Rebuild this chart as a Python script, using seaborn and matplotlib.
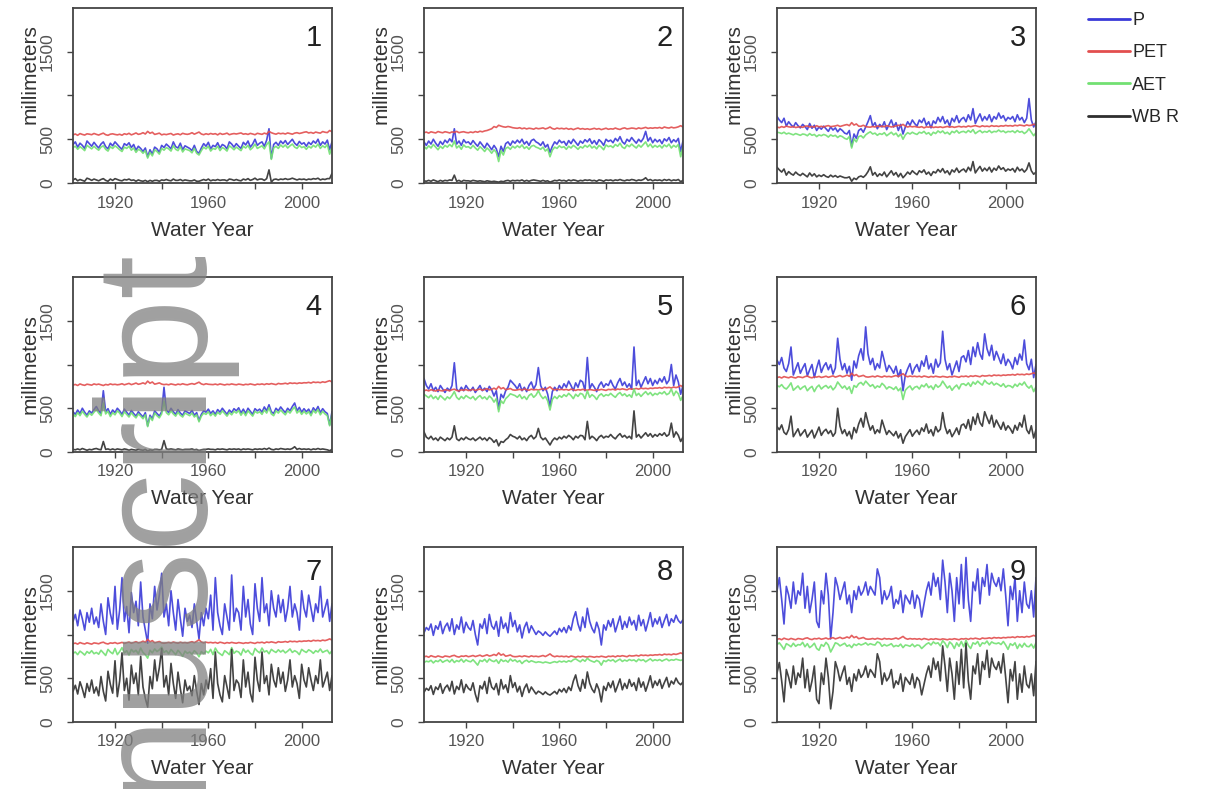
import numpy as np
import pandas as pd
import matplotlib
matplotlib.use("Agg")
import matplotlib.pyplot as plt
from matplotlib.lines import Line2D
import seaborn as sns

# ---------------- data (mm per water year, 1902-2013) ----------------
years = list(range(1902, 2014))
series_names = ["P", "PET", "AET", "WBR"]
legend_labels = ["P", "PET", "AET", "WB R"]
panel_labels = ["1", "2", "3", "4", "5", "6", "7", "8", "9"]
year_ticks = [1920, 1940, 1960, 1980, 2000]
year_ticklabels = ["1920", "", "1960", "", "2000"]
mm_ticks = [0, 500, 1000, 1500]
mm_ticklabels = ["0", "500", "", "1500"]

P1 = [440,470,410,455,430,395,480,450,420,465, 430,400,445,470,415,390,455,425,470,440,
      410,385,450,430,460,405,440,375,420,395, 360,400,300,380,330,410,390,350,430,405,
      445,420,390,470,415,400,455,380,425,410, 395,370,430,360,340,400,450,420,465,390,
      430,415,460,400,440,425,390,470,445,410, 450,420,395,465,435,480,410,445,500,430,
      455,470,420,490,620,280,440,465,430,480, 450,485,440,470,500,455,430,475,445,460,
      420,465,440,480,455,500,430,470,445,490, 380,470]
AET1 = [405,420,385,415,395,370,430,410,390,420, 395,375,410,425,385,365,415,395,425,405,
        380,360,410,395,420,375,400,350,385,370, 340,370,285,350,310,380,360,330,395,375,
        405,390,365,425,385,370,415,355,390,380, 370,345,395,340,320,370,410,390,420,365,
        395,385,420,370,405,390,365,425,405,380, 410,390,370,420,400,430,380,405,445,395,
        410,425,390,440,470,270,400,420,395,435, 410,435,400,425,445,410,395,430,405,415,
        385,420,400,430,410,445,395,425,405,440, 330,410]
PET1 = [550,560,545,565,555,548,562,558,552,566, 556,548,560,570,552,545,558,562,555,550,
        557,546,563,555,568,550,560,572,556,562, 575,560,590,568,580,555,562,570,550,558,
        553,560,566,548,557,562,551,568,560,556, 562,575,558,570,582,560,552,563,555,566,
        558,564,550,568,556,561,570,552,560,565, 560,566,572,558,563,555,567,560,552,568,
        562,556,570,560,590,575,565,558,570,563, 568,560,572,565,558,570,575,566,572,580,
        585,572,578,568,582,575,570,588,580,576, 600,585]
WBR1 = [35,50,25,40,30,20,55,45,30,45, 35,25,40,50,30,20,45,30,50,40,
        30,25,40,35,45,30,35,20,35,25, 20,30,15,30,20,30,30,20,35,30,
        40,30,25,45,30,30,40,25,35,30, 25,25,35,20,20,30,40,30,45,25,
        35,30,40,30,35,35,25,45,40,30, 40,30,25,45,35,50,30,40,55,35,
        45,45,30,50,150,10,40,45,35,45, 40,50,40,45,55,45,35,45,40,45,
        35,45,40,50,45,55,35,45,40,50, 50,110]

P2 = [470,430,480,445,500,455,420,475,440,490, 460,505,470,620,445,480,430,495,460,470,
      440,485,450,420,470,435,400,455,420,380, 430,390,300,420,360,450,470,430,480,455,
      490,460,500,445,475,430,485,500,470,455, 430,470,410,440,350,420,470,445,490,460,
      475,430,485,450,500,465,430,480,455,495, 470,505,450,485,440,495,470,430,500,475,
      490,460,510,480,530,470,445,500,475,520, 485,455,500,470,510,590,480,520,460,500,
      470,495,450,505,480,520,460,495,470,510, 360,480]
AET2 = [420,390,425,400,440,410,380,420,395,430, 410,440,415,480,400,425,385,435,410,415,
        395,430,400,375,415,390,360,400,375,340, 380,350,245,370,320,395,410,385,420,400,
        425,405,435,395,415,385,420,430,410,400, 385,410,365,390,300,375,410,395,425,405,
        415,385,420,400,430,410,385,415,400,430, 410,435,400,420,390,430,410,380,435,415,
        425,405,440,420,455,410,395,435,415,445, 420,400,435,410,440,470,415,445,405,430,
        410,430,400,435,415,445,400,430,410,440, 300,420]
PET2 = [575,582,570,585,578,572,588,580,574,586, 580,572,584,578,590,575,582,586,578,574,
        583,576,588,580,592,585,595,600,610,620, 645,635,660,650,642,638,646,640,632,628,
        625,632,620,628,618,626,622,615,628,620, 624,630,618,626,640,622,615,628,620,625,
        618,626,614,622,610,620,628,616,622,614, 620,612,618,625,615,622,610,618,626,614,
        620,616,628,618,612,624,630,618,622,628, 625,618,630,622,628,636,624,630,626,632,
        628,635,624,640,632,628,638,630,634,642, 655,640]
WBR2 = [25,20,30,20,35,25,15,30,20,30, 25,35,30,90,20,30,15,30,25,25,
        20,30,25,20,25,20,15,25,20,15, 20,15,10,20,15,25,30,20,30,25,
        30,25,35,20,30,20,30,35,30,25, 20,30,20,25,10,20,30,25,35,25,
        30,20,35,25,35,30,20,30,25,35, 30,35,25,30,20,35,30,20,35,30,
        35,25,35,30,40,30,25,35,30,40, 35,25,35,30,40,60,30,40,25,35,
        30,35,25,40,30,40,25,35,30,40, 15,30]

P3 = [760,720,690,740,650,700,665,640,690,655, 630,670,645,610,680,625,660,600,640,615,
      650,620,590,640,605,630,585,620,600,570, 560,600,420,560,510,600,620,580,640,700,
      770,650,690,620,670,640,700,610,665,720, 640,690,600,670,560,640,700,660,720,680,
      650,720,690,740,660,700,630,710,680,750, 700,760,680,720,650,740,700,770,690,730,
      750,700,780,720,850,680,740,790,710,760, 720,780,700,760,730,800,740,770,710,750,
      730,760,700,780,720,750,690,740,965,720, 640,700]
AET3 = [580,575,565,580,560,570,560,550,565,555, 545,560,555,540,565,545,555,530,550,540,
        555,545,525,550,535,545,520,540,530,510, 500,530,400,505,470,530,540,515,550,570,
        585,560,570,545,565,555,575,540,560,580, 550,570,530,560,500,550,575,560,580,565,
        555,580,570,590,560,575,545,580,565,595, 575,595,565,580,555,590,575,600,570,585,
        590,575,600,580,610,565,585,600,575,590, 580,600,575,590,585,605,585,595,575,590,
        585,595,575,600,580,590,565,585,620,580, 540,575]
PET3 = [640,632,645,636,650,642,638,646,634,640, 644,636,648,652,640,646,638,655,642,648,
        640,650,656,644,648,652,660,646,654,662, 668,655,690,662,675,650,648,660,645,640,
        638,646,640,652,644,650,642,656,648,640, 646,652,660,655,670,650,640,648,642,646,
        640,636,644,630,642,638,646,634,640,636, 642,634,640,646,638,644,636,642,648,640,
        646,640,652,644,650,656,648,642,654,646, 650,644,656,648,652,646,654,650,658,652,
        656,650,660,654,662,658,652,664,656,660, 672,662]
WBR3 = [180,150,125,160,90,130,105,90,125,100, 85,110,90,70,115,80,105,70,90,75,
        95,75,65,90,70,85,65,80,70,60, 60,70,20,55,40,70,80,65,90,130,
        185,90,120,75,105,85,125,70,105,140, 90,120,70,110,60,90,125,100,140,115,
        95,140,120,150,100,125,85,130,115,155, 125,165,115,140,95,150,125,170,120,145,
        160,125,180,140,245,115,155,190,135,170, 140,180,125,170,145,195,155,175,135,160,
        145,165,125,180,140,160,125,155,230,140, 100,125]

P4 = [460,430,480,440,500,455,420,470,445,485, 520,470,440,700,460,495,430,480,450,500,
      470,430,490,455,420,475,440,410,460,430, 400,450,300,420,380,470,440,410,460,740,
      480,450,500,460,430,485,445,420,470,455, 440,475,420,450,360,430,470,455,490,440,
      470,430,485,455,500,465,430,480,450,495, 470,505,445,490,440,500,465,430,495,470,
      490,455,515,470,540,460,440,500,470,515, 480,450,500,470,520,560,470,510,455,495,
      460,490,440,505,470,520,450,495,460,440, 310,460]
AET4 = [435,405,450,415,465,430,400,445,420,455, 485,445,415,560,435,465,405,450,425,470,
        445,405,460,430,400,450,415,390,435,410, 380,425,290,400,360,445,415,390,435,580,
        450,425,470,435,410,455,420,400,445,430, 415,445,400,425,345,410,445,430,460,415,
        445,410,455,430,470,440,410,450,425,465, 445,475,420,460,415,470,440,410,465,445,
        460,430,480,445,505,435,415,470,445,480, 450,425,470,445,485,515,445,475,430,465,
        435,460,415,475,445,485,425,465,435,415, 300,435]
PET4 = [765,772,760,778,768,762,775,770,764,778, 770,776,768,760,772,766,778,770,774,768,
        772,780,768,776,784,770,778,788,774,780, 790,778,810,786,800,775,782,790,776,770,
        774,768,778,772,766,776,770,780,772,768, 776,782,774,786,798,778,770,780,774,772,
        770,776,768,778,772,766,774,770,778,772, 768,776,772,766,774,770,778,772,766,776,
        772,778,770,780,774,782,776,770,784,778, 780,786,778,790,784,788,782,790,786,792,
        790,796,788,800,794,798,792,802,796,806, 815,800]
WBR4 = [30,25,35,25,40,30,20,30,25,35, 40,30,25,120,30,35,25,35,25,35,
        30,25,35,30,20,30,25,20,30,25, 20,30,10,25,20,30,30,25,30,130,
        35,30,35,30,25,35,30,25,30,30, 30,35,25,30,15,25,30,30,35,30,
        30,25,35,30,35,30,25,35,30,35, 30,35,25,35,30,35,30,25,35,30,
        35,30,40,30,45,30,25,35,30,40, 35,30,35,30,40,60,30,40,30,35,
        30,35,25,35,30,40,30,35,30,25, 15,30]

P5 = [840,760,720,780,700,740,690,760,720,680, 730,700,760,1020,720,690,740,700,760,720,
      700,740,680,720,760,700,730,690,750,710, 640,700,490,660,620,700,740,820,790,760,
      720,780,700,740,690,760,800,720,770,965, 760,700,740,660,520,690,740,700,760,720,
      780,740,810,760,700,790,740,820,800,700, 1080,720,780,740,690,760,800,740,780,760,
      820,760,720,790,840,760,800,740,780,720, 1200,760,820,740,800,860,780,840,760,820,
      780,840,800,860,780,820,1000,760,880,800, 660,760]
AET5 = [660,640,620,650,610,635,600,645,620,595, 630,610,645,690,625,600,635,610,645,625,
        610,635,595,625,645,610,630,600,640,615, 570,610,460,585,555,610,635,665,655,645,
        625,655,610,635,600,645,665,625,650,700, 645,610,635,585,480,600,635,610,645,625,
        655,635,670,645,610,660,635,670,660,610, 700,625,655,635,600,645,665,635,655,645,
        670,645,625,660,680,645,665,635,655,625, 720,645,670,635,665,690,655,680,645,670,
        655,680,665,690,655,670,720,645,695,665, 590,645]
PET5 = [700,708,698,712,704,696,710,702,698,712, 706,700,712,718,704,698,710,706,714,702,
        708,716,704,712,720,706,714,724,710,716, 730,715,750,722,735,712,718,726,710,706,
        710,716,708,720,712,706,718,710,714,708, 716,724,712,728,745,720,710,718,712,716,
        710,716,706,718,712,704,714,708,716,710, 706,714,710,704,712,708,716,710,704,716,
        712,718,708,720,714,722,716,710,724,718, 720,726,718,730,724,728,722,730,726,732,
        730,736,728,740,734,738,732,742,736,744, 760,742]
WBR5 = [230,170,150,180,140,160,130,170,150,130, 160,140,170,300,150,130,160,140,170,150,
        140,160,130,150,170,140,160,130,165,145, 110,140,70,120,110,140,160,200,180,170,
        150,180,140,160,130,170,190,150,175,270, 170,140,160,120,80,130,160,140,170,150,
        180,160,190,170,140,180,160,190,185,140, 350,150,180,160,130,170,190,160,180,170,
        200,170,150,185,210,170,190,160,180,150, 470,170,200,160,190,220,180,210,170,200,
        180,210,190,220,180,200,330,170,230,190, 120,170]

P6 = [1050,1000,1080,960,920,1010,1200,880,950,1020, 900,960,1010,870,940,1000,850,960,1050,910,
      980,1020,940,1000,890,960,1300,1060,940,1010, 900,980,820,1040,960,1100,1180,1050,1430,1120,
      1000,1070,940,1010,960,1150,1040,920,990,950, 900,980,860,940,700,880,950,1010,890,960,
      1000,920,1040,980,1100,950,1010,900,1060,970, 1020,1380,1060,940,1010,880,960,1040,920,1080,
      1100,1030,1160,1000,1200,1090,1250,1120,1060,1350, 1180,1100,1220,1050,1150,1080,1010,1120,990,1060,
      1020,950,1080,1000,1120,1050,1280,1010,940,1060, 850,1000]
AET6 = [760,745,770,735,720,750,790,705,730,755, 715,740,755,700,730,750,690,740,765,720,
        745,760,730,755,710,740,800,765,730,755, 715,745,670,760,740,780,795,765,810,780,
        750,770,730,755,740,785,760,720,745,735, 715,745,700,730,600,705,735,755,710,740,
        750,720,765,745,780,735,755,715,770,740, 760,810,770,730,755,705,740,765,720,775,
        780,760,790,750,800,775,810,785,765,820, 790,775,800,765,785,770,750,780,740,760,
        755,735,775,750,785,765,800,755,730,760, 690,745]
PET6 = [850,858,846,862,854,848,860,852,846,860, 856,850,862,868,854,848,860,856,864,852,
        858,866,854,862,870,856,864,874,860,866, 880,865,900,872,885,862,868,876,860,856,
        860,866,858,870,862,856,868,860,864,858, 866,874,862,878,895,870,860,868,862,866,
        860,866,856,868,862,854,864,858,866,860, 856,864,860,854,862,858,866,860,854,866,
        862,868,858,870,864,872,866,860,874,868, 870,876,868,880,874,878,872,880,876,882,
        880,886,878,890,884,888,882,892,886,894, 905,892]
WBR6 = [290,255,310,225,200,260,410,175,220,265, 185,220,255,170,210,250,160,220,285,190,
        235,260,210,245,180,220,500,295,210,255, 185,235,150,280,220,320,385,285,450,340,
        250,300,210,255,220,365,280,200,245,215, 185,235,160,210,100,175,215,255,180,220,
        250,200,275,235,320,215,255,185,290,230, 260,450,290,210,255,175,220,275,200,305,
        320,270,370,250,400,315,440,335,295,460, 390,325,420,285,365,310,260,340,250,300,
        265,215,305,250,335,285,420,255,210,300, 160,255]

P7 = [1150,1230,1100,1280,1180,1050,1250,1140,1300,1120, 1200,1080,1350,1150,1000,1420,1240,1120,1550,1060,
      1280,1650,1150,1320,1020,1480,1250,1380,1100,1600, 1200,1050,900,1350,1180,1550,1280,1450,1700,1200,
      1350,1100,1500,1250,1050,1400,1180,980,1300,1150, 1220,1080,1350,1150,950,1250,1100,1300,1180,1450,
      1050,1650,1250,1100,1000,1350,1200,1050,1680,1150, 1300,1250,1050,1550,1200,1400,1120,1000,1580,1300,
      1150,1650,1250,1350,1100,1500,1300,1200,1450,1250, 1400,1150,1300,1550,1200,1350,1250,1050,1500,1300,
      1200,1450,1300,1150,1350,1250,1550,1200,1300,1400, 1150,1350]
AET7 = [785,800,770,810,790,765,805,785,815,780, 795,775,820,790,760,830,800,780,840,770,
        805,850,790,815,765,830,800,820,780,845, 795,770,730,820,790,835,805,825,855,795,
        815,780,830,800,770,820,790,750,810,785, 800,775,815,790,745,805,780,810,790,830,
        770,845,800,780,760,815,795,770,850,785, 810,800,765,835,795,820,785,765,840,810,
        790,845,800,815,780,830,810,795,825,800, 820,790,810,835,795,815,800,770,830,810,
        795,825,810,785,815,800,835,795,810,820, 780,815]
PET7 = [895,902,890,908,898,892,905,897,890,904, 900,894,906,912,898,892,904,900,908,896,
        902,910,898,906,914,900,908,918,904,910, 924,910,945,916,930,905,912,920,904,900,
        904,910,902,914,906,900,912,904,908,902, 910,918,906,922,940,914,904,912,906,910,
        904,910,900,912,906,898,908,902,910,904, 900,908,904,898,906,902,910,904,898,910,
        906,912,902,914,908,916,910,904,918,912, 914,920,912,924,918,922,916,924,920,926,
        924,930,922,934,928,932,926,936,930,938, 950,936]
WBR7 = [350,420,320,460,380,280,440,350,480,330, 400,300,520,350,240,580,430,330,700,290,
        470,790,360,500,250,650,440,560,310,750, 400,270,170,520,380,710,470,620,840,400,
        530,310,670,440,270,570,380,220,480,360, 410,300,530,350,200,440,310,480,380,610,
        270,800,440,310,230,530,400,270,830,360, 480,440,280,710,400,570,330,230,740,480,
        350,800,440,530,310,660,480,400,620,440, 570,350,480,710,400,530,440,270,660,480,
        400,620,480,360,530,440,710,400,480,570, 360,530]

P8 = [1020,1080,1050,1120,990,1100,1060,1150,1010,1090, 1130,1040,1180,1000,1110,1060,1200,1020,1140,1080,
      1050,1160,1000,880,1120,1070,1180,1010,1230,1100, 1060,1150,980,1200,1070,1130,1020,1250,1090,1160,
      1030,1110,960,1080,1140,1020,1100,1050,1000,1040, 1020,990,1030,1000,980,1010,1040,1000,1070,1030,
      1080,1020,1100,1050,1180,1260,1120,1040,1200,1080, 1300,1150,1070,1020,1140,1060,880,1110,1050,1160,
      1090,1180,1030,1120,1210,1060,1150,1080,1200,1110, 1160,1050,1220,1100,1170,1040,1140,1250,1090,1180,
      1120,1200,1080,1160,1230,1100,1180,1140,1220,1160, 1130,1170]
AET8 = [680,695,688,705,675,700,690,712,682,698, 708,685,715,680,702,690,718,684,710,695,
        688,712,682,650,705,692,716,684,720,700, 690,710,670,715,692,705,684,720,696,710,
        686,702,668,694,706,684,700,690,680,688, 684,676,686,680,672,682,690,680,696,686,
        696,684,700,690,712,722,704,688,714,694, 728,706,694,684,704,690,650,702,690,710,
        698,712,686,704,718,692,708,696,714,702, 710,690,718,702,712,688,706,722,698,712,
        702,714,696,710,720,700,712,706,718,710, 704,712]
PET8 = [745,752,740,758,748,742,755,747,740,754, 750,744,756,762,748,742,754,750,758,746,
        752,760,748,756,764,750,758,768,754,760, 772,760,790,764,776,752,758,766,750,746,
        748,754,746,756,750,744,756,748,752,746, 752,760,748,762,778,756,746,754,748,752,
        746,752,742,754,748,740,750,744,752,746, 742,750,746,740,748,744,752,746,740,752,
        748,754,744,756,750,758,752,746,760,754, 756,762,754,766,760,764,758,766,762,768,
        766,772,764,776,770,774,768,778,772,780, 790,778]
WBR8 = [340,385,362,415,315,400,370,438,328,392, 422,355,465,320,408,370,482,336,430,385,
        362,448,318,230,415,378,464,326,510,400, 370,440,310,485,378,425,336,530,394,450,
        344,408,292,386,434,336,400,360,320,352, 336,314,344,320,308,328,350,320,374,344,
        384,336,400,360,468,538,416,352,486,386, 572,444,376,336,436,370,230,408,360,450,
        392,468,344,416,492,368,442,384,486,408, 450,360,502,398,458,352,434,528,392,468,
        418,486,384,450,510,400,468,434,502,450, 426,458]

P9 = [1500,1650,1400,1120,1550,1450,1300,1600,1350,1500, 1450,1700,1300,1550,1250,1400,1600,1150,1080,1500,
      1350,1700,1450,950,1250,1650,1550,1400,1500,1600, 1350,1450,1250,1500,1400,1550,1450,1500,1600,1450,
      1550,1500,1450,1750,1650,1350,1500,1400,1450,1550, 1300,1400,1350,1500,1250,1450,1400,1350,1500,1300,
      1450,1400,1200,1350,1500,1600,1450,1700,1550,1650, 1400,1850,1600,1250,1700,1500,1150,1650,1350,1800,
      1300,1880,1400,1150,1600,1500,1750,1350,1650,1550, 1800,1450,1700,1600,1550,1650,1500,1750,1450,1100,
      1550,1400,1650,1150,1500,1250,1600,1350,1300,1500, 1200,1650]
AET9 = [885,905,870,830,895,880,860,900,865,885, 880,910,860,895,850,870,900,840,820,885,
        865,910,880,800,850,905,895,870,885,900, 865,880,850,890,875,895,880,890,905,880,
        895,885,880,915,905,865,885,870,880,895, 860,875,865,890,850,880,875,865,890,860,
        880,875,840,865,890,905,880,915,895,905, 870,930,900,850,915,890,840,905,865,920,
        860,935,875,840,905,890,920,865,905,895, 925,880,915,900,895,905,885,920,880,830,
        895,875,905,840,890,855,900,865,860,890, 845,905]
PET9 = [945,952,940,958,948,942,955,947,940,954, 950,944,956,962,948,942,954,950,958,946,
        952,960,948,956,964,950,958,968,954,960, 972,960,990,964,976,952,958,966,950,946,
        948,954,946,956,950,944,956,948,952,946, 952,960,948,962,978,956,946,954,948,952,
        946,952,942,954,948,940,950,944,952,946, 942,950,946,940,948,944,952,946,940,952,
        948,954,944,956,950,958,952,946,960,954, 956,962,954,966,960,964,958,966,962,968,
        966,972,964,976,970,974,968,978,972,980, 990,978]
WBR9 = [560,680,470,230,600,510,390,640,430,560, 510,730,390,600,350,470,640,260,210,560,
        430,730,510,150,350,690,600,470,560,640, 430,510,350,550,470,600,510,550,640,510,
        600,560,510,780,690,430,560,470,510,600, 390,470,430,550,350,510,470,430,550,390,
        510,470,310,430,550,640,510,730,600,690, 470,870,640,350,730,550,260,690,430,830,
        390,900,470,260,640,550,780,430,690,600, 820,510,730,640,600,690,560,780,510,220,
        600,470,690,260,550,340,640,430,390,550, 300,690]

panels = [(P1, PET1, AET1, WBR1), (P2, PET2, AET2, WBR2), (P3, PET3, AET3, WBR3),
          (P4, PET4, AET4, WBR4), (P5, PET5, AET5, WBR5), (P6, PET6, AET6, WBR6),
          (P7, PET7, AET7, WBR7), (P8, PET8, AET8, WBR8), (P9, PET9, AET9, WBR9)]

# ---------------- style ----------------
sns.set_style("white")
plt.rcParams["font.family"] = ["Liberation Sans", "DejaVu Sans"]
colors = {"P": "#3a3ad8", "PET": "#e24e4e", "AET": "#72e072", "WBR": "#2e2e2e"}
axis_col = "#444444"

W, H = 1208, 789
fig = plt.figure(figsize=(W / 100, H / 100), dpi=100)

col_left = [73, 424, 777]
col_w = 259
row_bottom = [183, 452, 722]
row_h = 175

for i, (vals, lab) in enumerate(zip(panels, panel_labels)):
    r, c = divmod(i, 3)
    ax = fig.add_axes([col_left[c] / W, 1 - row_bottom[r] / H, col_w / W, row_h / H])
    df = pd.DataFrame({"Water Year": years})
    for name, v in zip(series_names, vals):
        df[name] = v
    long = df.melt(id_vars="Water Year", var_name="series", value_name="mm")
    sns.lineplot(data=long, x="Water Year", y="mm", hue="series",
                 hue_order=series_names, palette=colors, estimator=None,
                 legend=False, ax=ax, linewidth=1.2, alpha=0.9)
    ax.set_xlim(1902, 2013)
    ax.set_ylim(0, 2000)
    ax.set_xticks(year_ticks)
    ax.set_xticklabels(year_ticklabels, fontsize=12, color="#555555")
    ax.set_yticks(mm_ticks)
    ax.set_yticklabels(mm_ticklabels, fontsize=12.5, color="#555555",
                       rotation=90, va="center")
    ax.tick_params(axis="x", direction="out", length=4, width=1, color=axis_col, pad=5,
                   bottom=True)
    ax.tick_params(axis="y", direction="out", length=4, width=1, color=axis_col, pad=9,
                   left=True)
    for s in ax.spines.values():
        s.set_visible(True)
        s.set_color(axis_col)
        s.set_linewidth(1.3)
    ax.set_xlabel("Water Year", fontsize=15, color="#333333", va="center")
    ax.xaxis.set_label_coords(0.5, -47 / row_h)
    ax.set_ylabel("millimeters", fontsize=15, color="#333333", va="center")
    ax.yaxis.set_label_coords(-43 / col_w, 0.62 if r == 0 else 0.5)
    ax.text(0.93, 0.86 if r == 2 else 0.83, lab, transform=ax.transAxes,
            ha="center", va="center", fontsize=21, color="#222222")

handles = [Line2D([], [], color=colors[n], lw=2) for n in series_names]
fig.legend(handles, legend_labels, loc="upper left",
           bbox_to_anchor=(1088 / W, 1 - 12 / H), frameon=False, fontsize=13,
           handlelength=2.3, handletextpad=0.15, labelspacing=0.85, borderpad=0,
           borderaxespad=0)

# author-manuscript watermark (partly visible on the left edge)
fig.text(207 / W, 1 - 255 / H, "Author Manuscript", rotation=90,
         rotation_mode="anchor", ha="right", va="baseline", fontsize=113,
         color="#808080", alpha=0.75, family="Liberation Sans", zorder=10)

fig.savefig("out.png", dpi=100)
